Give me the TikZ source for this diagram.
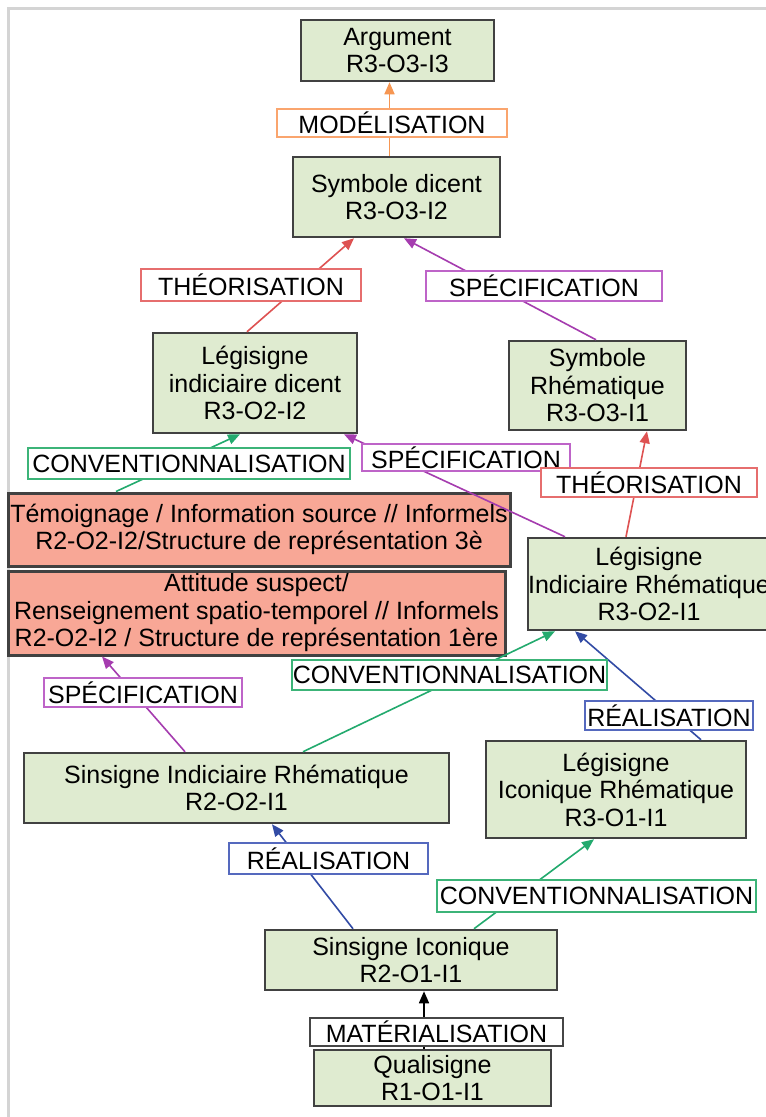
\documentclass[tikz,border=0pt]{standalone}
\usepackage{fontspec}
\setmainfont{Liberation Sans}
\usetikzlibrary{arrows.meta}
\definecolor{boxgreen}{RGB}{223,235,208}
\definecolor{salmon}{RGB}{248,167,150}
\definecolor{boxline}{RGB}{65,65,65}
\definecolor{corange}{RGB}{246,150,82}
\definecolor{cred}{RGB}{222,82,82}
\definecolor{cpurple}{RGB}{165,60,175}
\definecolor{cgreen}{RGB}{35,170,110}
\definecolor{cblue}{RGB}{50,75,165}
\definecolor{lorange}{RGB}{250,165,110}
\definecolor{lred}{RGB}{230,110,110}
\definecolor{lpurple}{RGB}{190,100,200}
\definecolor{lgreen}{RGB}{60,180,120}
\definecolor{lblue}{RGB}{85,105,190}
\definecolor{lgray}{RGB}{70,70,70}
\definecolor{framegray}{RGB}{212,212,212}
\begin{document}
\begin{tikzpicture}[x=1pt,y=-1pt,
  every node/.style={font=\fontsize{25}{27.5}\selectfont, inner sep=0pt, align=center},
  sign/.style 2 args={draw=boxline, line width=2.5pt, fill=boxgreen, minimum width=#1, minimum height=#2},
  info/.style 2 args={draw=boxline, line width=3pt, fill=salmon, minimum width=#1, minimum height=#2},
  lab/.style n args={3}{draw=#1, line width=1.8pt, fill=white, minimum width=#2, minimum height=#3},
  conn/.style={draw=#1, line width=1.6pt, -{Triangle[length=12pt,width=10pt,fill=#1]}}
]
\useasboundingbox (0,0) rectangle (766,1117);
\fill[white] (0,0) rectangle (766,1117);
\draw[framegray, line width=3pt] (8.5,1117) -- (8.5,8.5) -- (766,8.5);

% sign boxes
\node[sign={193}{61}] (arg) at (397.5,50.5) {Argument\\R3-O3-I3};
\node[sign={207}{80}] (symd) at (396.5,197) {Symbole dicent\\R3-O3-I2};
\node[sign={204}{100}] (lid) at (255,383) {Légisigne\\indiciaire dicent\\R3-O2-I2};
\node[sign={177}{89}] (symr) at (597.5,385.5) {Symbole\\Rhématique\\R3-O3-I1};
\node[info={502}{73}] (tem) at (259,529.5) {Témoignage / Information source // Informels\\R2-O2-I2/Structure de représentation 3è};
\node[info={497}{84}] (att) at (256.5,613) {Attitude suspect/\\Renseignement spatio-temporel // Informels\\R2-O2-I2 / Structure de représentation 1ère};
\node[sign={238}{92}] (lir) at (649,584) {Légisigne\\Indiciaire Rhématique\\R3-O2-I1};
\node[sign={425}{70}] (sir) at (236.5,788) {Sinsigne Indiciaire Rhématique\\R2-O2-I1};
\node[sign={260}{97}] (licr) at (616,789.5) {Légisigne\\Iconique Rhématique\\R3-O1-I1};
\node[sign={292}{60}] (sic) at (411,960) {Sinsigne Iconique\\R2-O1-I1};
\node[sign={237}{56}] (qual) at (432.5,1078) {Qualisigne\\R1-O1-I1};

% connectors
\draw[conn=corange] ([xshift=-7pt]symd.north) -- ([xshift=-8pt]arg.south);
\draw[conn=cred] ([xshift=-8pt]lid.north) -- ([xshift=-42.5pt]symd.south);
\draw[conn=cpurple] ([xshift=-1.5pt]symr.north) -- ([xshift=7.5pt]symd.south);
\draw[conn=cgreen] ([xshift=-143pt]tem.north) -- ([xshift=-15pt]lid.south);
\draw[conn=cpurple] ([xshift=-84pt]lir.north) -- ([xshift=89pt]lid.south);
\draw[conn=cred] ([xshift=-23pt]lir.north) -- ([xshift=49.5pt]symr.south);
\draw[conn=cgreen] ([xshift=66.5pt]sir.north) -- ([xshift=-94pt]lir.south);
\draw[conn=cpurple] ([xshift=-51.5pt]sir.north) -- ([xshift=-154.5pt]att.south);
\draw[conn=cblue] ([xshift=85pt]licr.north) -- ([xshift=-74pt]lir.south);
\draw[conn=cblue] ([xshift=-58pt]sic.north) -- ([xshift=35.5pt]sir.south);
\draw[conn=cgreen] ([xshift=63pt]sic.north) -- ([xshift=-22pt]licr.south);
\draw[conn=black] ([xshift=-8.5pt]qual.north) -- ([xshift=13pt]sic.south);

% labels
\node[lab={lorange}{230}{28}] (lmod) at (392,123) {MODÉLISATION};
\node[lab={lred}{220}{32}] (lth1) at (251,285) {THÉORISATION};
\node[lab={lpurple}{236}{30}] (lsp1) at (544,286) {SPÉCIFICATION};
\node[lab={lgreen}{322}{31}] (lconv1) at (189,463.5) {CONVENTIONNALISATION};
\node[lab={lpurple}{208}{27}] (lsp2) at (466,457.5) {SPÉCIFICATION};
\node[lab={lred}{216}{29}] (lth2) at (649,482.5) {THÉORISATION};
\node[lab={lgreen}{315}{30}] (lconv2) at (449.5,675) {CONVENTIONNALISATION};
\node[lab={lpurple}{198}{29}] (lsp3) at (143,692.5) {SPÉCIFICATION};
\node[lab={lblue}{168}{29}] (lre1) at (669,715.5) {RÉALISATION};
\node[lab={lblue}{199}{31}] (lre2) at (328.5,858.5) {RÉALISATION};
\node[lab={lgreen}{319}{32}] (lconv3) at (596.5,896) {CONVENTIONNALISATION};
\node[lab={lgray}{253}{28}] (lmat) at (436.5,1032) {MATÉRIALISATION};
\end{tikzpicture}
\end{document}
